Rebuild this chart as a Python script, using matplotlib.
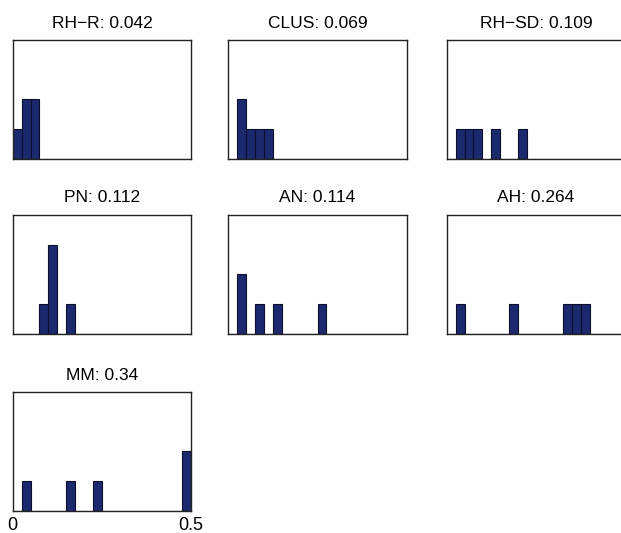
import matplotlib.pyplot as plt
import numpy as np

# 20 bins of width 0.025 over [0, 0.5]; counts per bin for each method
bin_edges = np.linspace(0, 0.5, 21)
titles = ['RH\u2212R: 0.042', 'CLUS: 0.069', 'RH\u2212SD: 0.109',
          'PN: 0.112', 'AN: 0.114', 'AH: 0.264', 'MM: 0.34']

rh_r  = [1, 2, 2, 0, 0, 0, 0, 0, 0, 0, 0, 0, 0, 0, 0, 0, 0, 0, 0, 0]
clus  = [0, 2, 1, 1, 1, 0, 0, 0, 0, 0, 0, 0, 0, 0, 0, 0, 0, 0, 0, 0]
rh_sd = [0, 1, 1, 1, 0, 1, 0, 0, 1, 0, 0, 0, 0, 0, 0, 0, 0, 0, 0, 0]
pn    = [0, 0, 0, 1, 3, 0, 1, 0, 0, 0, 0, 0, 0, 0, 0, 0, 0, 0, 0, 0]
an    = [0, 2, 0, 1, 0, 1, 0, 0, 0, 0, 1, 0, 0, 0, 0, 0, 0, 0, 0, 0]
ah    = [0, 1, 0, 0, 0, 0, 0, 1, 0, 0, 0, 0, 0, 1, 1, 1, 0, 0, 0, 0]
mm    = [0, 1, 0, 0, 0, 0, 1, 0, 0, 1, 0, 0, 0, 0, 0, 0, 0, 0, 0, 2]
counts = [rh_r, clus, rh_sd, pn, an, ah, mm]

W, H = 621, 533
fig = plt.figure(figsize=(W / 100, H / 100), dpi=100)

# axes boxes in pixels: (left, top, width, height)
lefts = [12.7, 228.3, 446.7]
tops = [40, 215, 392]
aw, ah_px = 178.5, 118.5

for i, (t, c) in enumerate(zip(titles, counts)):
    r, col = divmod(i, 3)
    l = lefts[col]
    tp = tops[r]
    ax = fig.add_axes([l / W, 1 - (tp + ah_px) / H, aw / W, ah_px / H])
    ax.bar(bin_edges[:-1], c, width=0.025, align='edge',
           color='#1b2a6e', edgecolor='#0a0f2a', linewidth=0.8)
    ax.set_xlim(0, 0.5)
    ax.set_ylim(0, 4)
    ax.set_yticks([])
    ax.tick_params(length=0)
    if i == 6:
        ax.set_xticks([0, 0.5], ['0', '0.5'])
        ax.tick_params(axis='x', labelsize=13, pad=5)
    else:
        ax.set_xticks([])
    for s in ax.spines.values():
        s.set_linewidth(1.0)
        s.set_color('#222222')
    ax.set_title(t, fontsize=12.5, pad=9)

for t in fig.findobj(plt.Text):
    t.set_family('Liberation Sans')

fig.savefig('out.png', dpi=100)
